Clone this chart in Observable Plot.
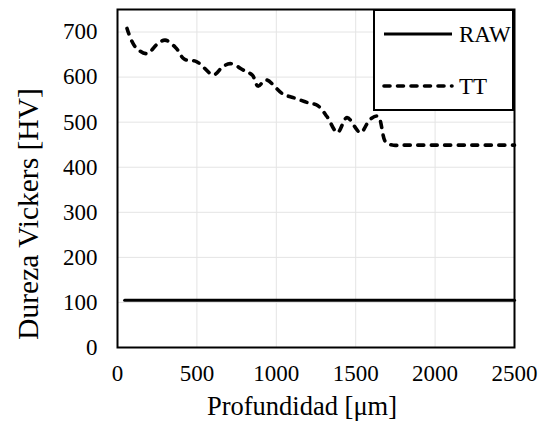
<!DOCTYPE html>
<html>
<head>
<meta charset="utf-8">
<script src="https://cdn.jsdelivr.net/npm/d3@7"></script>
<script src="https://cdn.jsdelivr.net/npm/@observablehq/plot@0.6"></script>
<style>
  html, body { margin: 0; padding: 0; background: #fff; }
  #chart { width: 543px; height: 423px; }
</style>
</head>
<body>
<div id="chart"></div>
<script>
// Depth (µm) and Vickers hardness (HV)
const ttDepth = [60, 110, 185, 250, 300, 370, 420, 500, 605, 660, 710, 800, 850, 885, 935, 1040, 1120, 1200, 1260, 1320, 1385, 1445, 1530, 1590, 1640, 1690, 1740, 1800, 2000, 2250, 2500];
const ttHV    = [708, 668, 652, 673, 682, 664, 640, 634, 605, 622, 630, 614, 604, 580, 594, 563, 553, 543, 537, 512, 477, 510, 477, 506, 513, 455, 449, 449, 449, 449, 449];
const rawDepth = [45, 500, 1000, 1500, 2000, 2500];
const rawHV    = [105, 105, 105, 105, 105, 105];
const xTicks = [0, 500, 1000, 1500, 2000, 2500];
const yTicks = [0, 100, 200, 300, 400, 500, 600, 700];
const seriesNames = ["RAW", "TT"];
const xLabel = "Profundidad [μm]";
const yLabel = "Dureza Vickers [HV]";

const tt = ttDepth.map((d, i) => ({x: d, y: ttHV[i]}));
const raw = rawDepth.map((d, i) => ({x: d, y: rawHV[i]}));

const font = "'Liberation Serif', 'Times New Roman', serif";
const dash = "6,7.5";

const plot = Plot.plot({
  width: 543,
  height: 423,
  marginLeft: 117,
  marginRight: 29,
  marginTop: 9,
  marginBottom: 76,
  style: {fontFamily: font, fontSize: "23px", color: "#000", background: "#fff"},
  x: {domain: [0, 2500]},
  y: {domain: [0, 750]},
  marks: [
    Plot.gridX(xTicks, {stroke: "#e4e4e4", strokeOpacity: 1, strokeWidth: 1}),
    Plot.gridY(yTicks, {stroke: "#e4e4e4", strokeOpacity: 1, strokeWidth: 1}),
    Plot.axisX(xTicks, {tickSize: 0, tickPadding: 17, label: null, fontSize: 23, tickFormat: d => String(d)}),
    Plot.axisY(yTicks, {tickSize: 0, tickPadding: 20, label: null, fontSize: 23, tickFormat: d => String(d)}),
    Plot.line(raw, {x: "x", y: "y", stroke: "#000", strokeWidth: 3}),
    Plot.line(tt, {x: "x", y: "y", stroke: "#000", strokeWidth: 3.6, curve: "catmull-rom", strokeDasharray: dash, strokeLinecap: "round"}),
    Plot.frame({stroke: "#000", strokeWidth: 2})
  ]
});

document.getElementById("chart").appendChild(plot);

const svg = d3.select(plot);

// axis titles
svg.append("text")
  .attr("x", 302).attr("y", 406)
  .attr("text-anchor", "middle").attr("dominant-baseline", "central")
  .style("font-family", font).style("font-size", "26.5px").attr("fill", "#000")
  .text(xLabel);
svg.append("text")
  .attr("transform", "translate(28,214) rotate(-90)")
  .attr("text-anchor", "middle").attr("dominant-baseline", "central")
  .style("font-family", font).style("font-size", "29.5px").attr("fill", "#000")
  .text(yLabel);

// legend
const lg = svg.append("g");
lg.append("rect").attr("x", 374).attr("y", 10).attr("width", 139).attr("height", 100)
  .attr("fill", "#fff").attr("stroke", "#000").attr("stroke-width", 2);
const styles = [{dash: null, w: 3}, {dash: dash, w: 3.6}];
seriesNames.forEach((name, i) => {
  const yy = i === 0 ? 34 : 86;
  lg.append("line").attr("x1", 384).attr("x2", 452).attr("y1", yy).attr("y2", yy)
    .attr("stroke", "#000").attr("stroke-width", styles[i].w)
    .attr("stroke-dasharray", styles[i].dash).attr("stroke-linecap", styles[i].dash ? "round" : "butt");
  lg.append("text").attr("x", 459).attr("y", yy)
    .attr("text-anchor", "start").attr("dominant-baseline", "central")
    .style("font-family", font).style("font-size", "23px").attr("fill", "#000")
    .text(name);
});
</script>
</body>
</html>
